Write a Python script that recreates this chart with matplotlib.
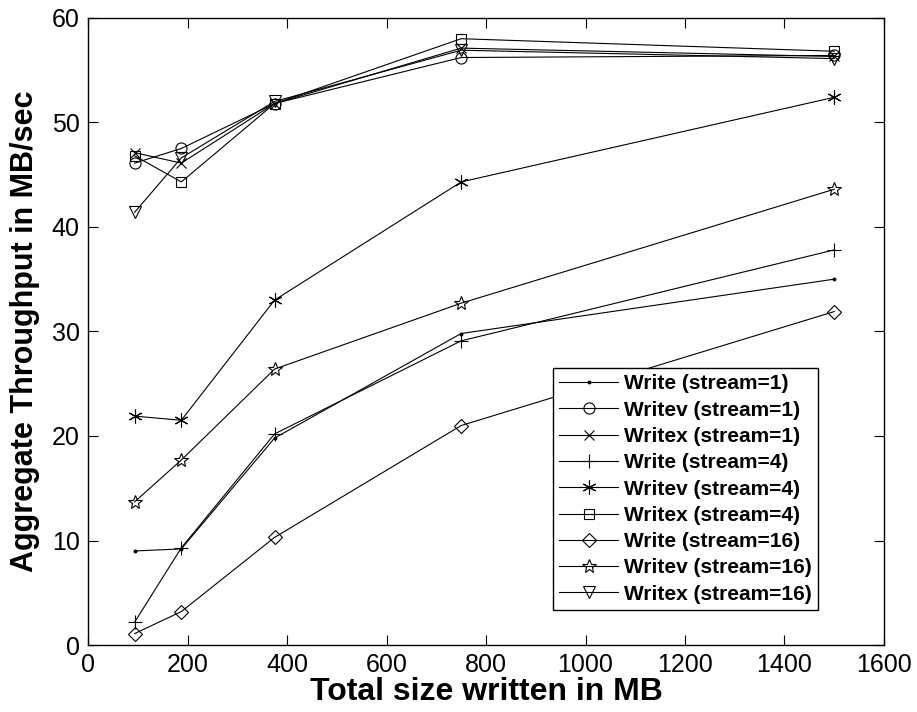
import matplotlib.pyplot as plt

# Total size written (MB)
sizes = [93.75, 187.5, 375, 750, 1500]

# Aggregate throughput (MB/sec) per configuration
write_s1 = [9.0, 9.2, 19.8, 29.8, 35.0]
writev_s1 = [46.1, 47.5, 51.8, 56.2, 56.4]
writex_s1 = [47.1, 46.1, 51.8, 57.1, 56.3]
write_s4 = [2.2, 9.3, 20.2, 29.1, 37.8]
writev_s4 = [21.9, 21.5, 33.0, 44.3, 52.4]
writex_s4 = [46.8, 44.3, 51.8, 58.0, 56.8]
write_s16 = [1.1, 3.2, 10.3, 21.0, 31.9]
writev_s16 = [13.7, 17.7, 26.4, 32.7, 43.6]
writex_s16 = [41.4, 46.6, 52.0, 56.9, 56.1]

labels = ["Write (stream=1)", "Writev (stream=1)", "Writex (stream=1)",
          "Write (stream=4)", "Writev (stream=4)", "Writex (stream=4)",
          "Write (stream=16)", "Writev (stream=16)", "Writex (stream=16)"]
series = [write_s1, writev_s1, writex_s1, write_s4, writev_s4, writex_s4,
          write_s16, writev_s16, writex_s16]
markers = ['.', 'o', 'x', '+', (6, 2, 0), 's', 'D', '*', 'v']
sizes_ms = [4, 8, 7, 10, 10, 7, 7, 10, 8]

plt.rcParams['font.family'] = ['Liberation Sans', 'DejaVu Sans']

fig = plt.figure(figsize=(9.17, 7.12), dpi=100)
ax = fig.add_axes([0.096, 0.094, 0.868, 0.881])

for ys, lab, m, ms in zip(series, labels, markers, sizes_ms):
    face = 'black' if m == '.' else 'none'
    ax.plot(sizes, ys, color='black', linewidth=0.8, marker=m, markersize=ms,
            markerfacecolor=face, markeredgecolor='black', markeredgewidth=0.8,
            label=lab)

ax.set_xlim(0, 1600)
ax.set_ylim(0, 60)
ax.set_xticks(range(0, 1601, 200))
ax.set_yticks(range(0, 61, 10))
ax.tick_params(direction='in', length=7, width=0.8, labelsize=18, pad=6,
               top=True, right=True)
for s in ax.spines.values():
    s.set_linewidth(1.0)

ax.set_xlabel("Total size written in MB", fontsize=23, fontweight='bold', labelpad=0)
ax.set_ylabel("Aggregate Throughput in MB/sec", fontsize=22, fontweight='bold')
ax.yaxis.set_label_coords(-0.06, 0.5)

leg = ax.legend(loc='lower right', bbox_to_anchor=(0.917, 0.056),
                prop={'size': 15, 'weight': 'bold'}, frameon=True, fancybox=False,
                edgecolor='black', framealpha=1, handlelength=2.8,
                labelspacing=0.35, borderpad=0.3, handletextpad=0.3,
                borderaxespad=0)
leg.get_frame().set_linewidth(1.0)

fig.savefig('out.png', dpi=100)
